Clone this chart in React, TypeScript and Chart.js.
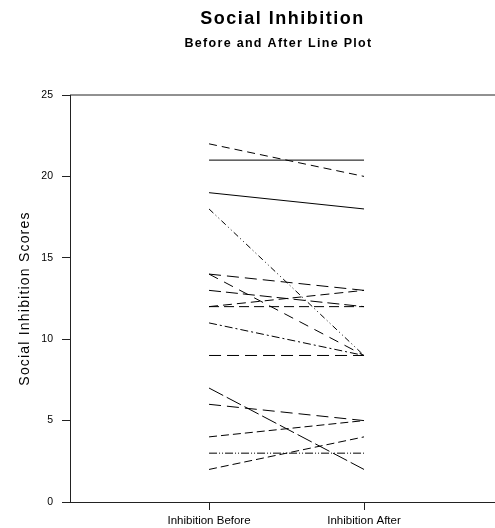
import React, { useEffect, useRef } from "react";
import { Chart, registerables } from "chart.js";

Chart.register(...registerables);

// ---- data ----
const categories = ["Inhibition Before", "Inhibition After"];
const beforeScores = [22, 21, 19, 18, 14, 14, 13, 12, 12, 11, 9, 7, 6, 4, 3, 2];
const afterScores = [20, 21, 18, 9, 13, 9, 12, 13, 12, 9, 9, 2, 5, 5, 3, 4];
const yTicks = [0, 5, 10, 15, 20, 25];
const titleText = "Social Inhibition";
const subtitleText = "Before and After Line Plot";
const yTitle = "Social Inhibition Scores";

// ---- styles ----
const lineDashes: number[][] = [
  [8, 5],
  [],
  [],
  [6, 3, 1, 3, 1, 3],
  [12, 6],
  [10, 7],
  [12, 5],
  [9, 5],
  [10, 5],
  [8, 3, 2, 3],
  [12, 6],
  [16, 4],
  [12, 6],
  [8, 4],
  [8, 2, 1, 2, 1, 2],
  [8, 4],
];

const FONT = '"Liberation Sans", Arial, Helvetica, sans-serif';

const frameAndTitles = {
  id: "frameAndTitles",
  afterDraw(chart: any) {
    const { ctx, chartArea } = chart;
    ctx.save();
    // top border of plot frame
    ctx.strokeStyle = "#222";
    ctx.lineWidth = 1;
    ctx.beginPath();
    ctx.moveTo(chartArea.left, chartArea.top);
    ctx.lineTo(chartArea.right, chartArea.top);
    ctx.stroke();
    // titles
    const cx = (chartArea.left + chartArea.right) / 2;
    ctx.fillStyle = "#000";
    ctx.textAlign = "center";
    ctx.textBaseline = "middle";
    ctx.font = `bold 18px ${FONT}`;
    try { (ctx as any).letterSpacing = "1.5px"; } catch (e) {}
    ctx.fillText(titleText, cx, 19);
    ctx.font = `bold 12.5px ${FONT}`;
    try { (ctx as any).letterSpacing = "1.3px"; } catch (e) {}
    ctx.fillText(subtitleText, cx - 4, 44);
    // y axis title
    ctx.font = `14px ${FONT}`;
    try { (ctx as any).letterSpacing = "1.2px"; } catch (e) {}
    ctx.translate(25, (chartArea.top + chartArea.bottom) / 2);
    ctx.rotate(-Math.PI / 2);
    ctx.fillText(yTitle, 0, 0);
    ctx.restore();
  },
};

export default function App() {
  const canvasRef = useRef<HTMLCanvasElement | null>(null);

  useEffect(() => {
    if (!canvasRef.current) return;
    const datasets = beforeScores.map((b, i) => ({
      label: `Subject ${i + 1}`,
      data: [
        { x: 1, y: b },
        { x: 2, y: afterScores[i] },
      ],
      showLine: true,
      borderColor: "#000",
      borderWidth: 1,
      borderDash: lineDashes[i],
      pointRadius: 0,
      pointHoverRadius: 0,
      fill: false,
    }));

    const chart = new Chart(canvasRef.current, {
      type: "scatter",
      data: { datasets },
      options: {
        animation: false,
        responsive: true,
        maintainAspectRatio: false,
        layout: { padding: { top: 95, left: 0, right: 0, bottom: 0 } },
        plugins: {
          legend: { display: false },
          tooltip: { enabled: false },
          title: { display: false },
        },
        scales: {
          x: {
            type: "linear",
            min: 0.103,
            max: 2.845,
            afterBuildTicks: (scale: any) => {
              scale.ticks = categories.map((_, i) => ({ value: i + 1 }));
            },
            afterFit: (scale: any) => {
              scale.height = 26;
            },
            ticks: {
              autoSkip: false,
              maxRotation: 0,
              padding: 4,
              color: "#000",
              font: { family: FONT, size: 11.5 },
              callback: (v: any) => categories[Math.round(Number(v)) - 1] ?? "",
            },
            grid: {
              display: true,
              drawOnChartArea: false,
              drawTicks: true,
              tickLength: 8,
              color: "#222",
            },
            border: { display: true, color: "#222", width: 1 },
          },
          y: {
            type: "linear",
            min: 0,
            max: 25,
            afterBuildTicks: (scale: any) => {
              scale.ticks = yTicks.map((v) => ({ value: v }));
            },
            afterFit: (scale: any) => {
              scale.width = 70;
            },
            ticks: {
              padding: 9,
              color: "#000",
              font: { family: FONT, size: 10.5 },
            },
            grid: {
              display: true,
              drawOnChartArea: false,
              drawTicks: true,
              tickLength: 8,
              color: "#222",
            },
            border: { display: true, color: "#222", width: 1 },
            title: { display: false },
          },
        },
      },
      plugins: [frameAndTitles],
    });
    return () => chart.destroy();
  }, []);

  return (
    <div
      style={{
        position: "fixed",
        left: 0,
        top: 0,
        width: 495,
        height: 528,
        background: "#fff",
      }}
    >
      <canvas ref={canvasRef} />
    </div>
  );
}
